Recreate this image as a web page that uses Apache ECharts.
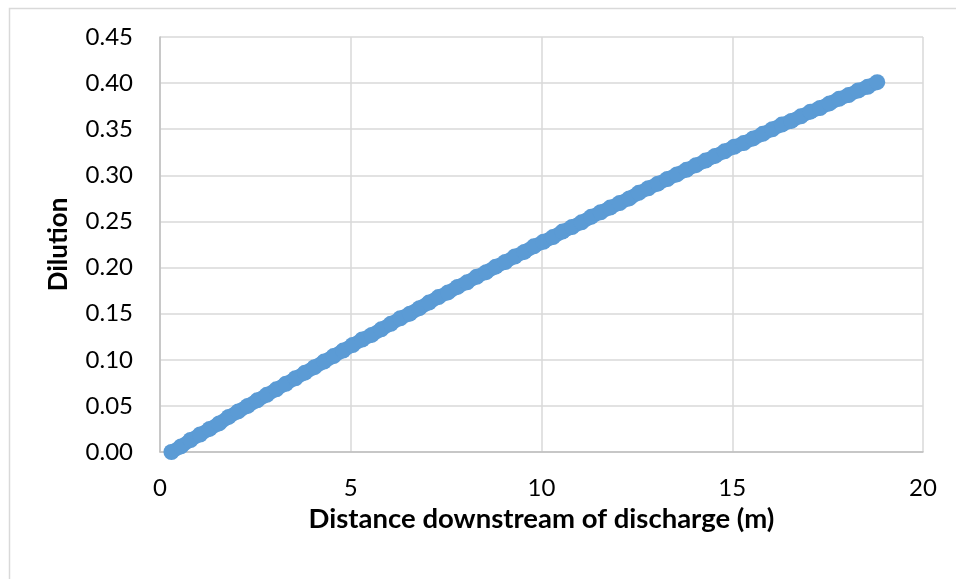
<!DOCTYPE html>
<html>
<head>
<meta charset="utf-8">
<script src="https://cdn.jsdelivr.net/npm/echarts@6/dist/echarts.min.js"></script>
<style>
html,body{margin:0;padding:0;background:#fff;}
#chart{width:956px;height:579px;}
</style>
</head>
<body>
<div id="chart"></div>
<script>
// Distance downstream of discharge (m)
const distance = [0.3,0.55,0.8,1.05,1.3,1.55,1.8,2.05,2.3,2.55,2.8,3.05,3.3,3.55,3.8,4.05,4.3,4.55,4.8,5.05,5.3,5.55,5.8,6.05,6.3,6.55,6.8,7.05,7.3,7.55,7.8,8.05,8.3,8.55,8.8,9.05,9.3,9.55,9.8,10.05,10.3,10.55,10.8,11.05,11.3,11.55,11.8,12.05,12.3,12.55,12.8,13.05,13.3,13.55,13.8,14.05,14.3,14.55,14.8,15.05,15.3,15.55,15.8,16.05,16.3,16.55,16.8,17.05,17.3,17.55,17.8,18.05,18.3,18.55,18.8];
// Dilution
const dilution = [0.000,0.006,0.013,0.019,0.025,0.031,0.038,0.044,0.050,0.056,0.062,0.068,0.074,0.080,0.086,0.092,0.098,0.104,0.110,0.116,0.122,0.127,0.133,0.139,0.145,0.150,0.156,0.162,0.168,0.173,0.179,0.184,0.190,0.195,0.201,0.206,0.212,0.217,0.223,0.228,0.233,0.239,0.244,0.249,0.255,0.260,0.265,0.270,0.275,0.281,0.286,0.291,0.296,0.301,0.306,0.311,0.316,0.321,0.326,0.331,0.335,0.340,0.345,0.350,0.355,0.359,0.364,0.369,0.373,0.378,0.383,0.387,0.392,0.396,0.401];
const xTicks = [0,5,10,15,20];
const yTicks = [0,0.05,0.10,0.15,0.20,0.25,0.30,0.35,0.40,0.45];

const points = distance.map((d,i)=>[d,dilution[i]]);
const chart = echarts.init(document.getElementById('chart'));
const font = 'Lato, "Open Sans", sans-serif';
chart.setOption({
  animation:false,
  backgroundColor:'#fff',
  textStyle:{fontFamily:font},
  graphic:[{type:'rect',left:7,top:6,shape:{width:1000,height:700},style:{fill:'none',stroke:'#d9d9d9',lineWidth:1.5},silent:true,z:-1}],
  grid:{left:160,right:33,top:37,bottom:127},
  xAxis:{
    type:'value',min:xTicks[0],max:xTicks[xTicks.length-1],interval:5,
    name:'Distance downstream of discharge (m)',nameLocation:'middle',nameGap:53,
    nameTextStyle:{fontSize:27.5,fontWeight:'bold',color:'#000',fontFamily:font},
    axisLine:{show:true,lineStyle:{color:'#bfbfbf',width:1.5}},
    axisTick:{show:false},
    axisLabel:{fontSize:24,color:'#000',margin:24,fontFamily:font},
    splitLine:{show:true,lineStyle:{color:'#d9d9d9',width:1.5}}
  },
  yAxis:{
    type:'value',min:yTicks[0],max:yTicks[yTicks.length-1],interval:0.05,
    name:'Dilution',nameLocation:'middle',nameGap:88,nameRotate:90,
    nameTextStyle:{fontSize:26,fontWeight:'bold',color:'#000',fontFamily:font},
    axisLine:{show:true,lineStyle:{color:'#bfbfbf',width:1.5}},
    axisTick:{show:false},
    axisLabel:{fontSize:24,color:'#000',margin:27,fontFamily:font,formatter:v=>v.toFixed(2)},
    splitLine:{show:true,lineStyle:{color:'#d9d9d9',width:1.5}}
  },
  series:[{
    type:'line',data:points,symbol:'circle',symbolSize:16,showSymbol:true,
    lineStyle:{color:'#5b9bd5',width:14},
    itemStyle:{color:'#5b9bd5',borderColor:'#5b9bd5',borderWidth:0,opacity:1}
  }]
});
</script>
</body>
</html>
